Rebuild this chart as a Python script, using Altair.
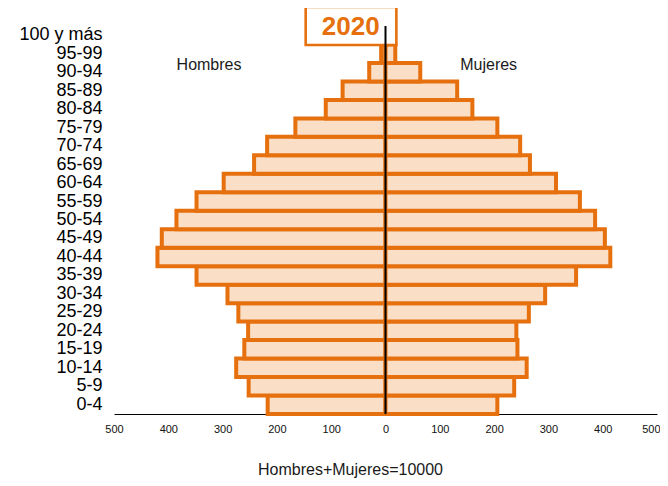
import altair as alt
import pandas as pd

ages = ["0-4", "5-9", "10-14", "15-19", "20-24", "25-29", "30-34", "35-39",
        "40-44", "45-49", "50-54", "55-59", "60-64", "65-69", "70-74", "75-79",
        "80-84", "85-89", "90-94", "95-99", "100 y más"]
hombres = [217, 252, 275, 260, 253, 271, 291, 348, 420, 412, 385, 348, 298,
           242, 218, 166, 110, 79, 30, 8, 1]
mujeres = [206, 237, 260, 243, 241, 264, 294, 351, 414, 404, 386, 358, 314,
           266, 248, 206, 160, 132, 64, 18, 3]
tick_values = [-500, -400, -300, -200, -100, 0, 100, 200, 300, 400, 500]
year_label = "2020"
sex_labels = ["Hombres", "Mujeres"]
sex_label_x = [-325, 190]
footer = "Hombres+Mujeres=10000"

ORANGE = "#E6700E"
PEACH = "#FBDEC6"
FONT = "Liberation Sans"

order = list(reversed(ages))

bars_df = pd.DataFrame({
    "edad": ages * 2,
    "valor": [-v for v in hombres] + mujeres,
    "sexo": ["Hombres"] * len(ages) + ["Mujeres"] * len(ages),
})

W, H = 543, 388

x_scale = alt.Scale(domain=[-500, 500], nice=False)
y_scale = alt.Scale(domain=order, paddingInner=0, paddingOuter=0)

bars = alt.Chart(bars_df).mark_bar(
    fill=PEACH, stroke=ORANGE, strokeWidth=4
).encode(
    x=alt.X("valor:Q", scale=x_scale,
            axis=alt.Axis(values=tick_values, labelExpr="abs(datum.value)",
                          grid=False, ticks=False, domainColor="black",
                          domainWidth=1, labelFontSize=11, labelFont=FONT,
                          labelColor="#111", labelPadding=9,
                          labelAlign={"condition": {"test": "datum.value == 500", "value": "right"}, "value": "center"},
                          labelOffset={"condition": {"test": "datum.value == 500", "value": 3}, "value": 0},
                          title=footer, titleFont=FONT, titleFontSize=16,
                          titleFontWeight="normal", titleColor="#1a1a1a",
                          titleX=236, titleY=60, titleBaseline="alphabetic",
                          titleAnchor="middle", titleAlign="center")),
    x2=alt.datum(0),
    y=alt.Y("edad:N", scale=y_scale, sort=order,
            axis=alt.Axis(title=None, domain=False, ticks=False, grid=False,
                          labelFontSize=18, labelFont=FONT, labelColor="black",
                          labelPadding=12)),
)

box_df = pd.DataFrame({"x1": [-147], "x2": [20]})
box = alt.Chart(box_df).mark_rect(
    fill="white", stroke=ORANGE, strokeWidth=2.6
).encode(
    x=alt.X("x1:Q", scale=x_scale),
    x2="x2:Q",
    y=alt.value(-19),
    y2=alt.value(19),
)

center = alt.Chart(pd.DataFrame({"x": [0]})).mark_rule(
    color="black", strokeWidth=2
).encode(
    x=alt.X("x:Q", scale=x_scale),
    y=alt.value(0),
    y2=alt.value(H),
)

year_df = pd.DataFrame({"x": [-64], "t": [year_label]})
year = alt.Chart(year_df).mark_text(
    font=FONT, fontSize=26, fontWeight="bold", color=ORANGE,
    align="center", baseline="middle"
).encode(
    x=alt.X("x:Q", scale=x_scale),
    y=alt.value(1),
    text="t:N",
)

sex_df = pd.DataFrame({"x": sex_label_x, "t": sex_labels})
sex = alt.Chart(sex_df).mark_text(
    font=FONT, fontSize=16, color="#1a1a1a", align="center", baseline="middle"
).encode(
    x=alt.X("x:Q", scale=x_scale),
    y=alt.value(39),
    text="t:N",
)

chart = alt.layer(bars, box, center, year, sex).properties(
    width=W, height=H,
    autosize=alt.AutoSizeParams(type="none"),
    padding={"left": 106, "top": 18, "right": 3, "bottom": 64},
).configure_view(stroke=None)

chart.save("out.html", embed_options={"renderer": "svg", "actions": False})
